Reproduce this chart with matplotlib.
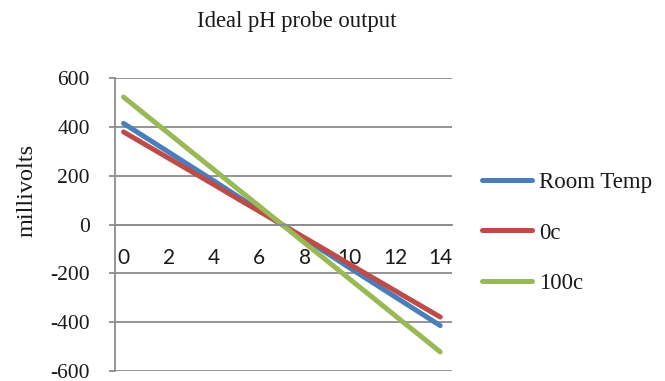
import matplotlib
matplotlib.use("Agg")
import matplotlib.pyplot as plt

plt.rcParams["axes.unicode_minus"] = False

ph = [0, 1, 2, 3, 4, 5, 6, 7, 8, 9, 10, 11, 12, 13, 14]
room_temp = [414, 355, 296, 237, 178, 118, 59, 0, -59, -118, -178, -237, -296, -355, -414]
zero_c = [379, 325, 271, 217, 163, 108, 54, 0, -54, -108, -163, -217, -271, -325, -379]
hundred_c = [522, 447, 373, 298, 224, 149, 75, 0, -75, -149, -224, -298, -373, -447, -522]
series_names = ["Room Temp", "0c", "100c"]
xtick_vals = [0, 2, 4, 6, 8, 10, 12, 14]
ytick_vals = [-600, -400, -200, 0, 200, 400, 600]

colors = ["#4A7EBB", "#BE4B48", "#98B954"]
grid_c = "#8C8C8C"
serif = "Liberation Serif"
txt_c = "#1a1a1a"

fig = plt.figure(figsize=(6.65, 3.81), dpi=100)
ax = fig.add_axes([115/665, 1-371/381, (452-115)/665, (371-78)/381])

for ys, name, c in zip([room_temp, zero_c, hundred_c], series_names, colors):
    ax.plot(ph, ys, color=c, lw=3.6, label=name, solid_capstyle="round")

ax.set_xlim(-0.38, 14.52)
ax.set_ylim(-600, 600)
ax.set_yticks(ytick_vals)
ax.set_xticks(xtick_vals)
ax.yaxis.grid(True, color=grid_c, lw=1.3)
ax.set_axisbelow(True)
for s in ["top", "right"]:
    ax.spines[s].set_visible(False)
ax.spines["left"].set_color(grid_c)
ax.spines["left"].set_linewidth(1.3)
ax.spines["bottom"].set_position(("data", 0))
ax.spines["bottom"].set_color(grid_c)
ax.spines["bottom"].set_linewidth(1.3)

ax.tick_params(axis="y", length=4, color=grid_c, width=1.3, pad=14)
ax.tick_params(axis="x", length=0, pad=17)
for lab in ax.get_yticklabels():
    lab.set_fontfamily(serif)
    lab.set_fontsize(15.5)
    lab.set_color(txt_c)
for lab in ax.get_xticklabels():
    lab.set_fontfamily("Lato")
    lab.set_fontsize(15)
    lab.set_color(txt_c)

fig.text(297/665, 1-22/381, "Ideal pH probe output", family=serif, fontsize=16.3,
         ha="center", va="center", color=txt_c)
fig.text(27/665, 1-190/381, "millivolts", family=serif, fontsize=17.5, rotation=90,
         ha="center", va="center", color=txt_c)

leg = fig.legend(loc="center left", bbox_to_anchor=(482/665, 1-233/381), frameon=False,
                 prop={"family": serif, "size": 16.5}, handlelength=2.2, handletextpad=0.3,
                 labelspacing=1.3, borderpad=0, borderaxespad=0)
for t in leg.get_texts():
    t.set_color(txt_c)

fig.savefig("out.png", dpi=100)
